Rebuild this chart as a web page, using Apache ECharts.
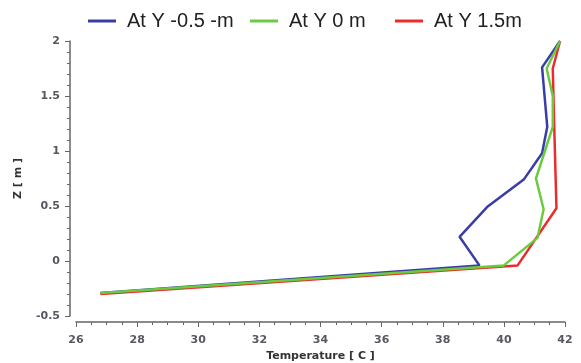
<!DOCTYPE html>
<html>
<head>
<meta charset="utf-8">
<script src="https://cdn.jsdelivr.net/npm/echarts@6/dist/echarts.min.js"></script>
<style>
  html, body { margin: 0; padding: 0; background: #fff; }
  #chart { width: 581px; height: 363px; }
</style>
</head>
<body>
<div id="chart"></div>
<script>
// series names
const seriesNames = ['At Y -0.5 -m', 'At Y 0 m', 'At Y 1.5m'];
// [temperature C, Z m] pairs
const atYm05 = [[26.8, -0.29], [39.2, -0.04], [38.55, 0.22], [39.45, 0.49], [40.65, 0.74],
                [41.25, 0.98], [41.42, 1.22], [41.25, 1.76], [41.84, 2.0]];
const atY0 = [[26.8, -0.29], [40.0, -0.04], [41.1, 0.21], [41.3, 0.47], [41.05, 0.75],
              [41.6, 1.22], [41.6, 1.5], [41.4, 1.75], [41.84, 2.0]];
const atY15 = [[26.8, -0.3], [40.45, -0.04], [41.72, 0.48], [41.65, 1.2], [41.6, 1.75], [41.84, 2.0]];
const colors = ['#3a3ca8', '#6bcb3e', '#ec2c2c'];

let chart = echarts.init(document.getElementById('chart'));

const labelStyle = {
    fontFamily: 'DejaVu Sans',
    fontWeight: 'bold',
    color: '#5a5560'
};

function legendItem(i, left) {
    return {
        data: [{ name: seriesNames[i], icon: 'rect' }],
        left: left,
        top: 6,
        itemWidth: 28,
        itemHeight: 3,
        textStyle: {
            fontFamily: 'Liberation Sans',
            fontSize: 20,
            color: '#222',
            padding: [0, 0, 0, 6]
        }
    };
}

let options = {
    animation: false,
    color: [colors[2], colors[0], colors[1]],
    legend: [legendItem(0, 83), legendItem(1, 245), legendItem(2, 390)],
    grid: {
        left: 76,
        right: 16,
        top: 41,
        bottom: 47,
        containLabel: false,
        outerBoundsMode: 'none'
    },
    xAxis: {
        type: 'value',
        min: 26,
        max: 42,
        interval: 2,
        offset: 6,
        name: 'Temperature [ C ]',
        nameLocation: 'middle',
        nameGap: 27,
        nameTextStyle: {
            fontFamily: 'DejaVu Sans',
            fontWeight: 'bold',
            fontSize: 11,
            color: '#333'
        },
        axisLine: { onZero: false, lineStyle: { color: '#666', width: 1.5 } },
        axisTick: { length: 5, lineStyle: { color: '#666' } },
        minorTick: { show: true, splitNumber: 4, length: 3, lineStyle: { color: '#666' } },
        axisLabel: Object.assign({ fontSize: 11, margin: 13 }, labelStyle),
        splitLine: { show: false }
    },
    yAxis: {
        type: 'value',
        min: -0.5,
        max: 2,
        interval: 0.5,
        offset: 6,
        name: 'Z [ m ]',
        nameLocation: 'middle',
        nameGap: 46,
        nameTextStyle: {
            fontFamily: 'DejaVu Sans',
            fontWeight: 'bold',
            fontSize: 11,
            color: '#333'
        },
        axisLine: { show: true, onZero: false, lineStyle: { color: '#666', width: 1.5 } },
        axisTick: { show: true, length: 5, lineStyle: { color: '#666' } },
        minorTick: { show: true, splitNumber: 5, length: 3, lineStyle: { color: '#666' } },
        axisLabel: Object.assign({ fontSize: 11, margin: 10 }, labelStyle),
        splitLine: { show: false }
    },
    series: [
        { name: seriesNames[2], type: 'line', data: atY15, showSymbol: false, symbol: 'none', lineStyle: { width: 2.5 }, z: 2 },
        { name: seriesNames[0], type: 'line', data: atYm05, showSymbol: false, symbol: 'none', lineStyle: { width: 2.5 }, z: 3 },
        { name: seriesNames[1], type: 'line', data: atY0, showSymbol: false, symbol: 'none', lineStyle: { width: 2.5 }, z: 4 }
    ]
};
chart.setOption(options);
</script>
</body>
</html>
